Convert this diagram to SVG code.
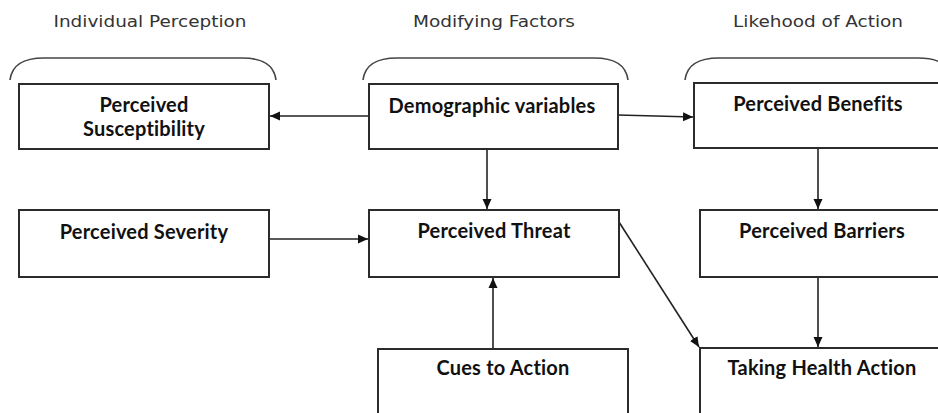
<svg xmlns="http://www.w3.org/2000/svg" width="938" height="413" viewBox="0 0 938 413">
<style>
.bg{fill:#fff}
.box{fill:#fff;stroke:#2b2b2b;stroke-width:2}
.lbl{font-family:Lato,"Liberation Sans",sans-serif;font-weight:bold;font-size:20px;letter-spacing:0.2px;fill:#111;text-anchor:middle}
.hdr{font-family:"DejaVu Sans","Liberation Sans",sans-serif;font-weight:normal;font-size:16px;fill:#333;text-anchor:middle}
.brace{fill:none;stroke:#444;stroke-width:1.6}
.edge{fill:none;stroke:#222;stroke-width:1.6;marker-end:url(#ah)}
</style>
<defs>
<marker id="ah" viewBox="0 0 10 10" refX="10" refY="5" markerWidth="10" markerHeight="10" markerUnits="userSpaceOnUse" orient="auto">
<path d="M0,0.5 L10,5 L0,9.5 z" fill="#111"/>
</marker>
</defs>
<rect class="bg" x="0" y="0" width="938" height="413"/>
<g id="headers">
<text class="hdr" x="150" y="27" textLength="193" lengthAdjust="spacingAndGlyphs">Individual Perception</text>
<text class="hdr" x="494" y="27" textLength="162" lengthAdjust="spacingAndGlyphs">Modifying Factors</text>
<text class="hdr" x="818" y="27" textLength="170" lengthAdjust="spacingAndGlyphs">Likehood of Action</text>
</g>
<g id="braces">
<path class="brace" d="M10,80 C12,64 24,58 44,58 L242,58 C262,58 274,64 276,80"/>
<path class="brace" d="M363,80 C365,64 377,58 397,58 L594,58 C614,58 626,64 628,80"/>
<path class="brace" d="M685,80 C687,64 699,58 719,58 L918,58 C938,58 950,64 952,80"/>
</g>
<g id="connectors">
<line class="edge" x1="369" y1="116" x2="270" y2="116"/>
<line class="edge" x1="618" y1="115" x2="693" y2="117"/>
<line class="edge" x1="487" y1="149" x2="487" y2="209"/>
<line class="edge" x1="818" y1="148" x2="818" y2="209"/>
<line class="edge" x1="269" y1="239" x2="368" y2="239"/>
<line class="edge" x1="493" y1="348" x2="493" y2="278"/>
<line class="edge" x1="818" y1="277" x2="818" y2="347"/>
<line class="edge" x1="619" y1="222" x2="699" y2="347"/>
</g>
<g id="susceptibility">
<rect class="box" x="19" y="84" width="250" height="65"/>
<text class="lbl" x="144" y="112">Perceived</text>
<text class="lbl" x="144" y="136">Susceptibility</text>
</g>
<g id="demographic">
<rect class="box" x="369" y="84" width="249" height="65"/>
<text class="lbl" x="492" y="113">Demographic variables</text>
</g>
<g id="benefits">
<rect class="box" x="694" y="83" width="250" height="65"/>
<text class="lbl" x="818" y="111">Perceived Benefits</text>
</g>
<g id="severity">
<rect class="box" x="19" y="210" width="250" height="67"/>
<text class="lbl" x="144" y="239">Perceived Severity</text>
</g>
<g id="threat">
<rect class="box" x="369" y="210" width="250" height="67"/>
<text class="lbl" x="494" y="238">Perceived Threat</text>
</g>
<g id="barriers">
<rect class="box" x="700" y="210" width="244" height="67"/>
<text class="lbl" x="822" y="238">Perceived Barriers</text>
</g>
<g id="cues">
<rect class="box" x="378" y="349" width="250" height="80"/>
<text class="lbl" x="503" y="375">Cues to Action</text>
</g>
<g id="taking">
<rect class="box" x="700" y="348" width="244" height="80"/>
<text class="lbl" x="822" y="375">Taking Health Action</text>
</g>
</svg>
